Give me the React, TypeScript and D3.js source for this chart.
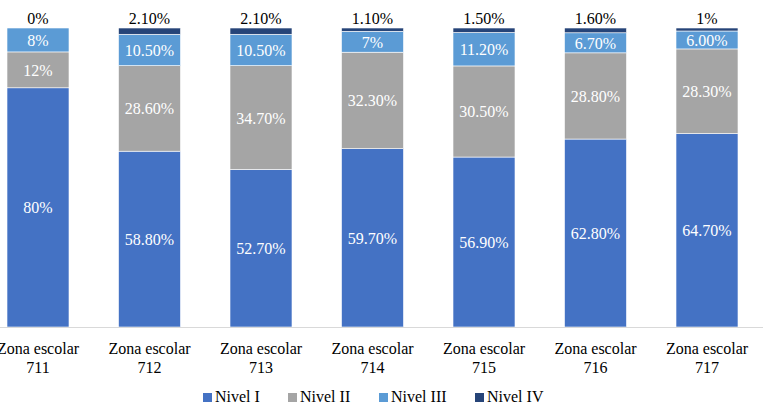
import React from "react";
import * as d3 from "d3";

const categories = ["711", "712", "713", "714", "715", "716", "717"];
const nivelI = [80, 58.8, 52.7, 59.7, 56.9, 62.8, 64.7];
const nivelII = [12, 28.6, 34.7, 32.3, 30.5, 28.8, 28.3];
const nivelIII = [8, 10.5, 10.5, 7, 11.2, 6.7, 6.0];
const nivelIV = [0, 2.1, 2.1, 1.1, 1.5, 1.6, 1];
const labelsI = ["80%", "58.80%", "52.70%", "59.70%", "56.90%", "62.80%", "64.70%"];
const labelsII = ["12%", "28.60%", "34.70%", "32.30%", "30.50%", "28.80%", "28.30%"];
const labelsIII = ["8%", "10.50%", "10.50%", "7%", "11.20%", "6.70%", "6.00%"];
const labelsIV = ["0%", "2.10%", "2.10%", "1.10%", "1.50%", "1.60%", "1%"];
const seriesNames = ["Nivel I", "Nivel II", "Nivel III", "Nivel IV"];
const colors = ["#4472C4", "#A5A5A5", "#5B9BD5", "#264478"];

const W = 773;
const H = 413;
const FONT = "Liberation Serif";

export default function App() {
  const series = [nivelI, nivelII, nivelIII, nivelIV];
  const labels = [labelsI, labelsII, labelsIII, labelsIV];
  const x = d3.scaleBand<string>().domain(categories).range([-17.75, 762.75]).paddingInner(0.444).paddingOuter(0.222);
  const y = d3.scaleLinear().domain([0, 1]).range([327, 28]);

  const rows = categories.map((c, i) => {
    const o: any = { cat: c };
    seriesNames.forEach((s, k) => (o[s] = series[k][i]));
    return o;
  });
  const stacked = d3.stack<any>().keys(seriesNames).offset(d3.stackOffsetExpand)(rows);

  const legendX = [203, 288, 379, 475];

  return (
    <svg width={W} height={H} style={{ position: "absolute", left: 0, top: 0 }}>
      <rect width={W} height={H} fill="#fff" />
      {stacked.map((layer, k) =>
        layer.map((d, i) => {
          const x0 = x(categories[i])!;
          const bw = x.bandwidth();
          const y0 = y(d[1]);
          const y1 = y(d[0]);
          const h = Math.max(0, y1 - y0);
          return (
            <g key={`${k}-${i}`}>
              <rect x={x0} y={y0} width={bw} height={h} fill={colors[k]} stroke="#fff" strokeWidth={0.6} />
              {k < 3 ? (
                <text x={x0 + bw / 2} y={(y0 + y1) / 2 + 6} textAnchor="middle" fontFamily={FONT} fontSize={16} fill="#fff">
                  {labels[k][i]}
                </text>
              ) : (
                <text x={x0 + bw / 2} y={y0 - 4} textAnchor="middle" fontFamily={FONT} fontSize={16} fill="#000">
                  {labels[k][i]}
                </text>
              )}
            </g>
          );
        })
      )}
      <line x1={0} x2={763} y1={327.5} y2={327.5} stroke="#d9d9d9" strokeWidth={1} />
      {categories.map((c) => {
        const cx = x(c)! + x.bandwidth() / 2;
        return (
          <text key={c} x={cx} textAnchor="middle" fontFamily={FONT} fontSize={16} fill="#000">
            <tspan x={cx} y={354}>Zona escolar</tspan>
            <tspan x={cx} y={372.5}>{c}</tspan>
          </text>
        );
      })}
      {seriesNames.map((s, k) => (
        <g key={s}>
          <rect x={legendX[k]} y={393} width={9} height={9} fill={colors[k]} />
          <text x={legendX[k] + 12} y={401.7} fontFamily={FONT} fontSize={16} fill="#000">
            {s}
          </text>
        </g>
      ))}
    </svg>
  );
}
